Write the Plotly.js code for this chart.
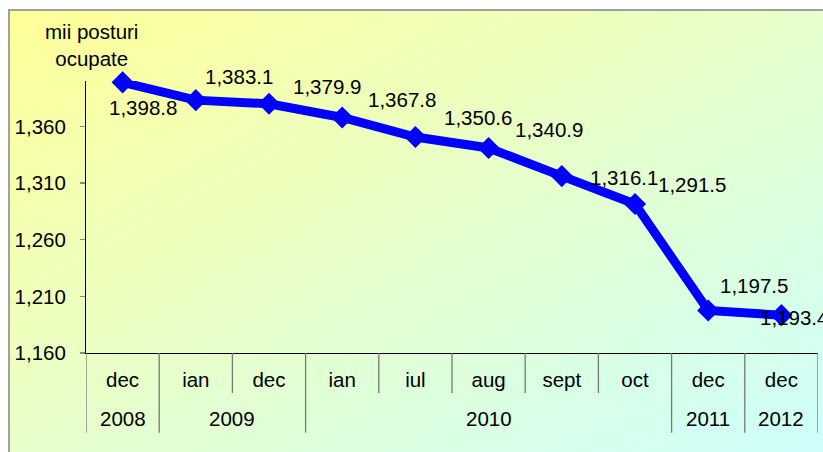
<!DOCTYPE html>
<html>
<head>
<meta charset="utf-8">
<script src="https://cdn.plot.ly/plotly-3.0.1.min.js"></script>
<style>
  html, body { margin: 0; padding: 0; background: #ffffff; overflow: hidden; }
  #frame {
    position: absolute; left: 8px; top: 9px; width: 830px; height: 460px;
    border-left: 2px solid #a0a0a0; border-top: 2px solid #a0a0a0;
    background: linear-gradient(to bottom right, #ffff99 0%, #e6ffcc 50%, #ccffff 100%);
  }
  #chart { position: absolute; left: 0; top: 0; width: 823px; height: 452px; }
</style>
</head>
<body>
<div id="frame"></div>
<div id="chart"></div>
<script>
// ---- data ----
const months = ['dec', 'ian', 'dec', 'ian', 'iul', 'aug', 'sept', 'oct', 'dec', 'dec'];
const years  = ['2008', '2009', '2009', '2010', '2010', '2010', '2010', '2010', '2011', '2012'];
const values = [1398.8, 1383.1, 1379.9, 1367.8, 1350.6, 1340.9, 1316.1, 1291.5, 1197.5, 1193.4];
const yTicks = [1160, 1210, 1260, 1310, 1360];
const unitLabel = 'mii posturi<br>ocupate';

// label placement offsets (px) relative to each point
const labelShift = [[20, -25], [43, 24], [58, 17], [60, 18], [63, 19], [60, 18], [62, -1], [57, 19], [46, 25], [13, -2]];

const FONT = 'Liberation Sans, Arial, sans-serif';
const FS = 20.5;
const idx = values.map((v, i) => i);

const trace = {
  x: idx, y: values, type: 'scatter', mode: 'lines+markers',
  line: { color: '#0000ff', width: 9 },
  marker: { symbol: 'diamond', size: 17, color: '#0000ff' },
  cliponaxis: false, hoverinfo: 'skip'
};

const annotations = values.map((v, i) => ({
  x: i, y: v, xref: 'x', yref: 'y', showarrow: false,
  text: v.toLocaleString('en-US', { minimumFractionDigits: 1, maximumFractionDigits: 1 }),
  xshift: labelShift[i][0], yshift: labelShift[i][1],
  xanchor: 'center', yanchor: 'middle',
  font: { family: FONT, size: FS, color: '#000' }
}));

// year groups
const groups = [];
years.forEach((yr, i) => {
  if (i === 0 || yr !== years[i - 1]) groups.push({ year: yr, start: i, end: i });
  else groups[groups.length - 1].end = i;
});
groups.forEach(g => annotations.push({
  x: (g.start + g.end) / 2, y: -0.239, xref: 'x', yref: 'paper', showarrow: false,
  text: g.year, xanchor: 'center', yanchor: 'middle',
  font: { family: FONT, size: FS, color: '#000' }
}));

annotations.push({
  x: 91, y: 45, xref: 'paper', yref: 'paper', showarrow: false,
  text: unitLabel, xanchor: 'center', yanchor: 'middle', align: 'center',
  font: { family: FONT, size: FS, color: '#000' }
});

// dividers between categories
const shapes = [];
for (let i = 0; i <= values.length; i++) {
  const outer = (i === 0 || i === values.length || years[i] !== years[i - 1]);
  shapes.push({
    type: 'line', xref: 'x', yref: 'paper',
    x0: i - 0.5, x1: i - 0.5, y0: 0, y1: outer ? -0.293 : -0.147,
    line: { color: '#777777', width: 1.3 }
  });
}

const W = 823, H = 452;
const margin = { l: 86, r: 5, t: 81, b: 99, pad: 0 };
// convert the unit label position from pixels to paper coords
const pw = W - margin.l - margin.r, ph = H - margin.t - margin.b;
const ul = annotations[annotations.length - 1];
ul.x = (ul.x - margin.l) / pw;
ul.y = (H - margin.b - ul.y) / ph;

const layout = {
  width: W, height: H, margin: margin,
  paper_bgcolor: 'rgba(0,0,0,0)', plot_bgcolor: 'rgba(0,0,0,0)',
  showlegend: false,
  font: { family: FONT, size: FS, color: '#000' },
  xaxis: {
    range: [-0.5, values.length - 0.5], tickvals: idx, ticktext: months,
    ticks: '', showgrid: false, zeroline: false,
    showline: true, linecolor: '#000', linewidth: 1,
    ticklabelstandoff: 8, fixedrange: true,
    tickfont: { family: FONT, size: FS, color: '#000' }
  },
  yaxis: {
    range: [1160, 1400], tickvals: yTicks, tickformat: ',d',
    ticks: 'outside', ticklen: 5, tickcolor: '#888888', tickwidth: 1.3,
    showgrid: false, zeroline: false,
    showline: true, linecolor: '#000', linewidth: 1,
    ticklabelstandoff: 10, fixedrange: true,
    tickfont: { family: FONT, size: FS, color: '#000' }
  },
  shapes: shapes,
  annotations: annotations
};

Plotly.newPlot('chart', [trace], layout, { displayModeBar: false, staticPlot: true });
</script>
</body>
</html>
